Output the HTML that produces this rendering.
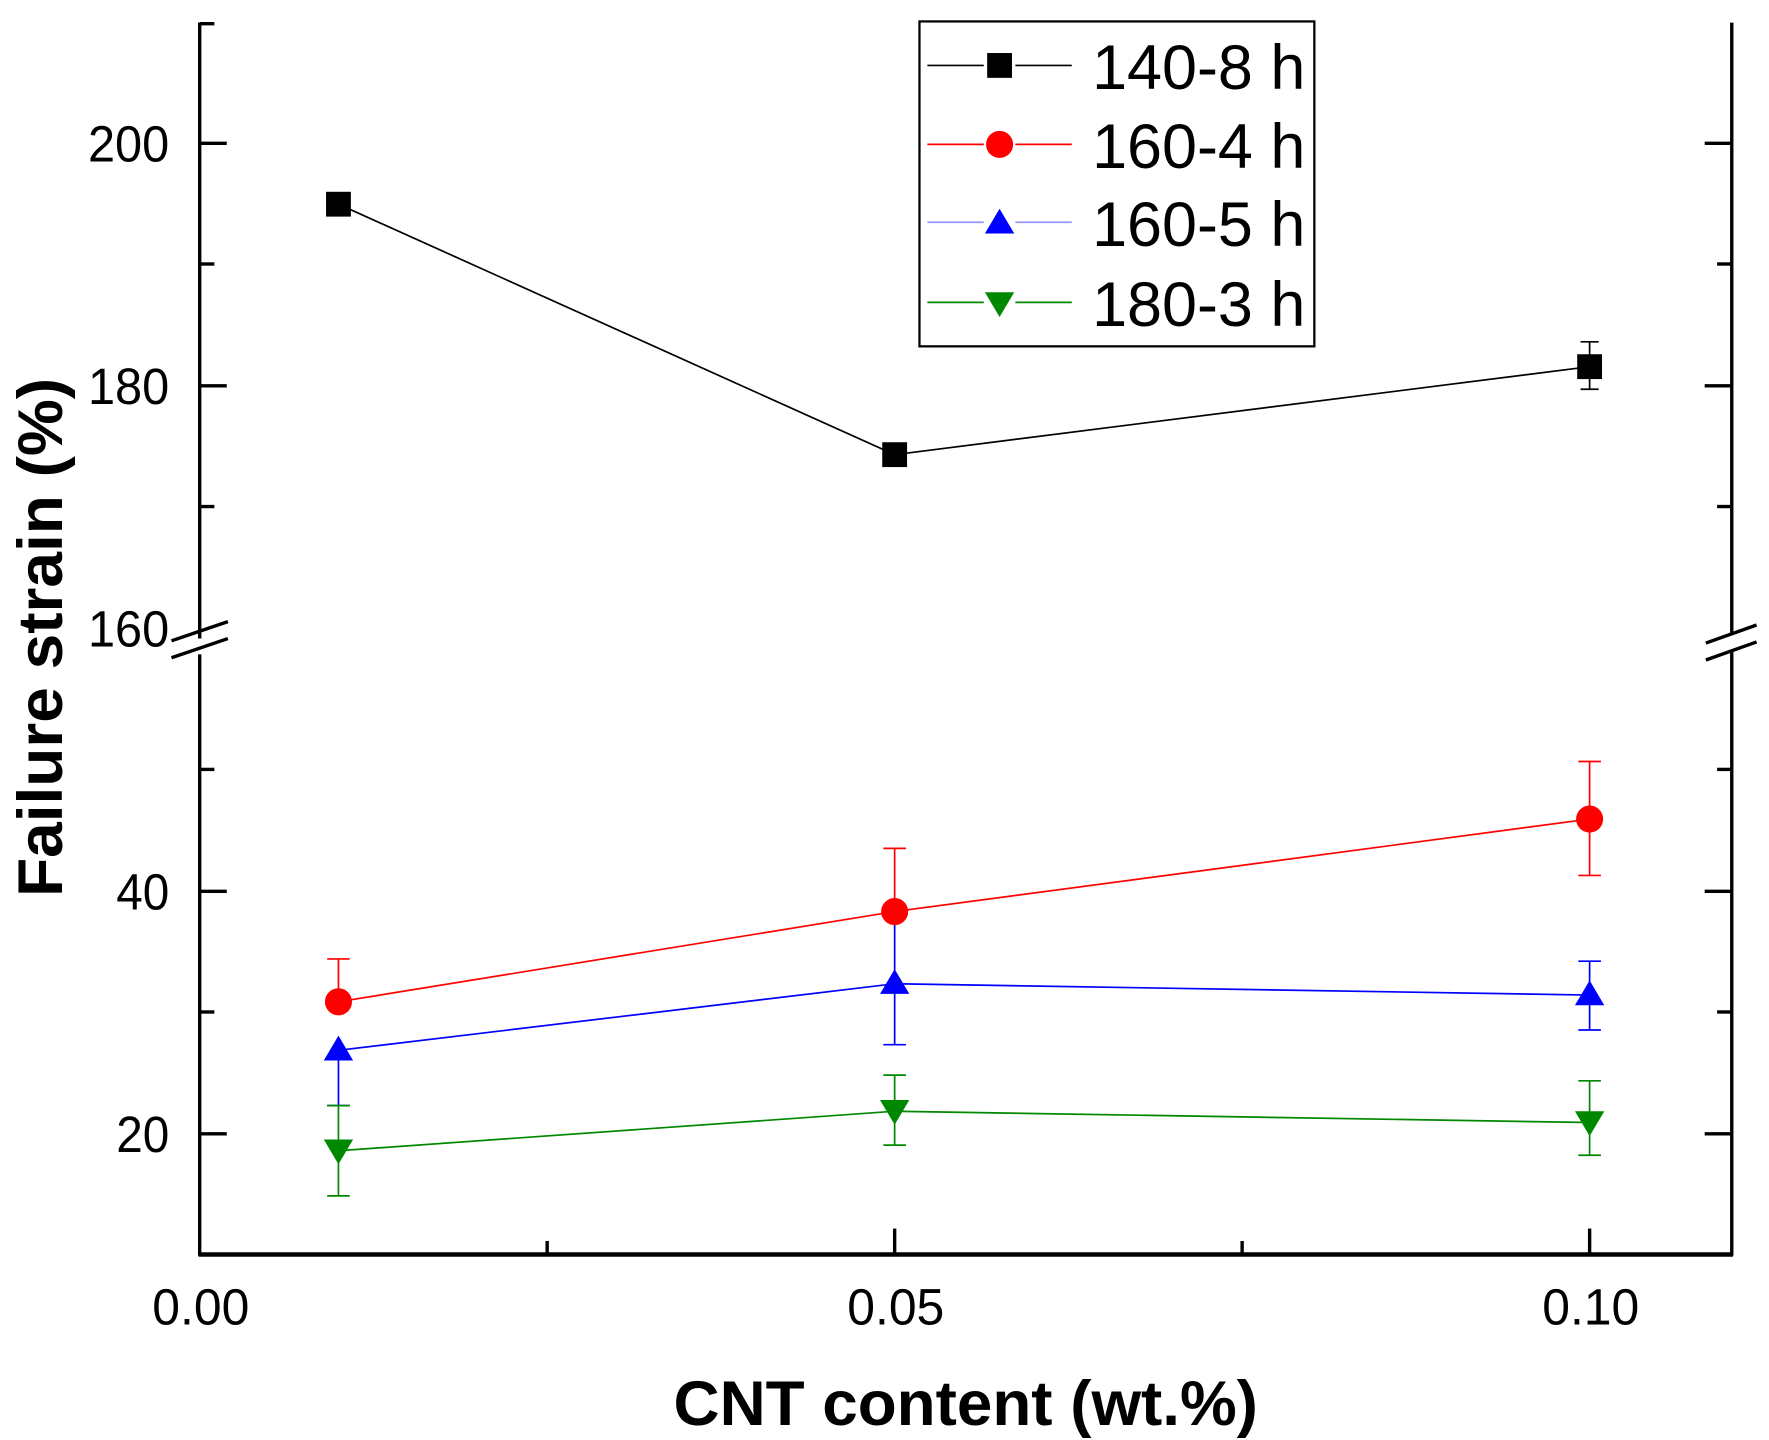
<!DOCTYPE html>
<html><head><style>html,body{margin:0;padding:0;background:#fff}svg{display:block}</style></head>
<body>
<svg width="1769" height="1440" viewBox="0 0 1568 1276.4" preserveAspectRatio="none" xmlns="http://www.w3.org/2000/svg" font-family="Liberation Sans, Arial, sans-serif">
<rect width="1568" height="1277" fill="#fff"/>
<g stroke="#000" stroke-width="3" fill="none">
<line x1="177" y1="20" x2="177" y2="566"/>
<line x1="177" y1="580" x2="177" y2="1113"/>
<line x1="177" y1="21" x2="190" y2="21"/>
<line x1="1535" y1="20" x2="1535" y2="563"/>
<line x1="1535" y1="578" x2="1535" y2="1113"/>
<line x1="176" y1="1112" x2="1536" y2="1112" stroke-width="4"/>
<line x1="177" y1="127" x2="201" y2="127"/><line x1="177" y1="234" x2="190" y2="234"/>
<line x1="177" y1="342" x2="201" y2="342"/><line x1="177" y1="449" x2="190" y2="449"/>
<line x1="177" y1="682" x2="190" y2="682"/><line x1="177" y1="790" x2="201" y2="790"/>
<line x1="177" y1="897" x2="190" y2="897"/><line x1="177" y1="1005" x2="201" y2="1005"/>
<line x1="1535" y1="127" x2="1511" y2="127"/><line x1="1535" y1="234" x2="1522" y2="234"/>
<line x1="1535" y1="342" x2="1511" y2="342"/><line x1="1535" y1="449" x2="1522" y2="449"/>
<line x1="1535" y1="682" x2="1522" y2="682"/><line x1="1535" y1="790" x2="1511" y2="790"/>
<line x1="1535" y1="897" x2="1522" y2="897"/><line x1="1535" y1="1005" x2="1511" y2="1005"/>
<line x1="485" y1="1112" x2="485" y2="1100"/><line x1="793" y1="1112" x2="793" y2="1089"/>
<line x1="1101" y1="1112" x2="1101" y2="1100"/><line x1="1409" y1="1112" x2="1409" y2="1089"/>
<line x1="152" y1="568" x2="202" y2="551"/><line x1="152" y1="583" x2="202" y2="566"/>
<line x1="1512" y1="570" x2="1557" y2="554"/><line x1="1512" y1="585" x2="1557" y2="569"/>
</g>
<g font-size="45" fill="#000">
<text x="78" y="143" textLength="72" lengthAdjust="spacingAndGlyphs">200</text>
<text x="78" y="358" textLength="72" lengthAdjust="spacingAndGlyphs">180</text>
<text x="78" y="573" textLength="72" lengthAdjust="spacingAndGlyphs">160</text>
<text x="103" y="806" textLength="47" lengthAdjust="spacingAndGlyphs">40</text>
<text x="103" y="1021" textLength="47" lengthAdjust="spacingAndGlyphs">20</text>
</g>
<g font-size="45" fill="#000">
<text x="135" y="1174" textLength="86" lengthAdjust="spacingAndGlyphs">0.00</text>
<text x="751" y="1174" textLength="86" lengthAdjust="spacingAndGlyphs">0.05</text>
<text x="1367" y="1174" textLength="86" lengthAdjust="spacingAndGlyphs">0.10</text>
</g>
<text x="597" y="1263" font-size="56" font-weight="bold" textLength="518" lengthAdjust="spacingAndGlyphs">CNT content (wt.%)</text>
<text transform="translate(55,795) rotate(-90)" font-size="56" font-weight="bold" textLength="460" lengthAdjust="spacingAndGlyphs">Failure strain (%)</text>

<polyline points="300,181 793,403 1409,325" fill="none" stroke="#000" stroke-width="1.5"/>
<polyline points="300,888 793,808 1409,726" fill="none" stroke="#f00" stroke-width="1.5"/>
<polyline points="300,931 793,872 1409,882" fill="none" stroke="#00f" stroke-width="1.5"/>
<polyline points="300,1020 793,985 1409,995" fill="none" stroke="#080" stroke-width="1.5"/>
<g stroke="#000" stroke-width="1.5"><line x1="1409" y1="303" x2="1409" y2="345"/><line x1="1401" y1="303" x2="1417" y2="303"/><line x1="1401" y1="345" x2="1417" y2="345"/></g>
<g stroke="#f00" stroke-width="1.5">
<line x1="300" y1="850" x2="300" y2="888"/><line x1="290" y1="850" x2="310" y2="850"/>
<line x1="793" y1="752" x2="793" y2="808"/><line x1="783" y1="752" x2="803" y2="752"/>
<line x1="1409" y1="675" x2="1409" y2="776"/><line x1="1399" y1="675" x2="1419" y2="675"/><line x1="1399" y1="776" x2="1419" y2="776"/>
</g>
<g stroke="#00f" stroke-width="1.5">
<line x1="300" y1="931" x2="300" y2="980"/><line x1="290" y1="980" x2="310" y2="980"/>
<line x1="793" y1="812" x2="793" y2="926"/><line x1="783" y1="926" x2="803" y2="926"/>
<line x1="1409" y1="852" x2="1409" y2="913"/><line x1="1399" y1="852" x2="1419" y2="852"/><line x1="1399" y1="913" x2="1419" y2="913"/>
</g>
<g stroke="#080" stroke-width="1.5">
<line x1="300" y1="980" x2="300" y2="1060"/><line x1="290" y1="980" x2="310" y2="980"/><line x1="290" y1="1060" x2="310" y2="1060"/>
<line x1="793" y1="953" x2="793" y2="1015"/><line x1="783" y1="953" x2="803" y2="953"/><line x1="783" y1="1015" x2="803" y2="1015"/>
<line x1="1409" y1="958" x2="1409" y2="1024"/><line x1="1399" y1="958" x2="1419" y2="958"/><line x1="1399" y1="1024" x2="1419" y2="1024"/>
</g>
<g fill="#000"><rect x="289" y="170" width="22" height="22"/><rect x="782" y="392" width="22" height="22"/><rect x="1398" y="314" width="22" height="22"/></g>
<g fill="#f00"><circle cx="300" cy="888" r="12"/><circle cx="793" cy="808" r="12"/><circle cx="1409" cy="726" r="12"/></g>
<g fill="#00f"><polygon points="300,918 287,940 313,940"/><polygon points="793,859 780,881 806,881"/><polygon points="1409,869 1396,891 1422,891"/></g>
<g fill="#080"><polygon points="300,1032 287,1010 313,1010"/><polygon points="793,997 780,975 806,975"/><polygon points="1409,1007 1396,985 1422,985"/></g>

<rect x="815" y="19" width="350" height="288" fill="#fff" stroke="#000" stroke-width="2"/>
<g stroke-width="1.5">
<line x1="822" y1="58" x2="872" y2="58" stroke="#000"/><line x1="900" y1="58" x2="950" y2="58" stroke="#000"/>
<line x1="822" y1="128" x2="872" y2="128" stroke="#f00"/><line x1="900" y1="128" x2="950" y2="128" stroke="#f00"/>
<line x1="822" y1="197" x2="872" y2="197" stroke="#99f"/><line x1="900" y1="197" x2="950" y2="197" stroke="#99f"/>
<line x1="822" y1="268" x2="872" y2="268" stroke="#080"/><line x1="900" y1="268" x2="950" y2="268" stroke="#080"/>
</g>
<rect x="875" y="47" width="22" height="22" fill="#000"/>
<circle cx="886" cy="128" r="12" fill="#f00"/>
<polygon points="886,185 873,207 899,207" fill="#00f"/>
<polygon points="886,281 873,259 899,259" fill="#080"/>
<g font-size="56" fill="#000">
<text x="968" y="79" textLength="189" lengthAdjust="spacingAndGlyphs">140-8 h</text>
<text x="968" y="149" textLength="189" lengthAdjust="spacingAndGlyphs">160-4 h</text>
<text x="968" y="218" textLength="189" lengthAdjust="spacingAndGlyphs">160-5 h</text>
<text x="968" y="289" textLength="189" lengthAdjust="spacingAndGlyphs">180-3 h</text>
</g>
</svg>
</body></html>
